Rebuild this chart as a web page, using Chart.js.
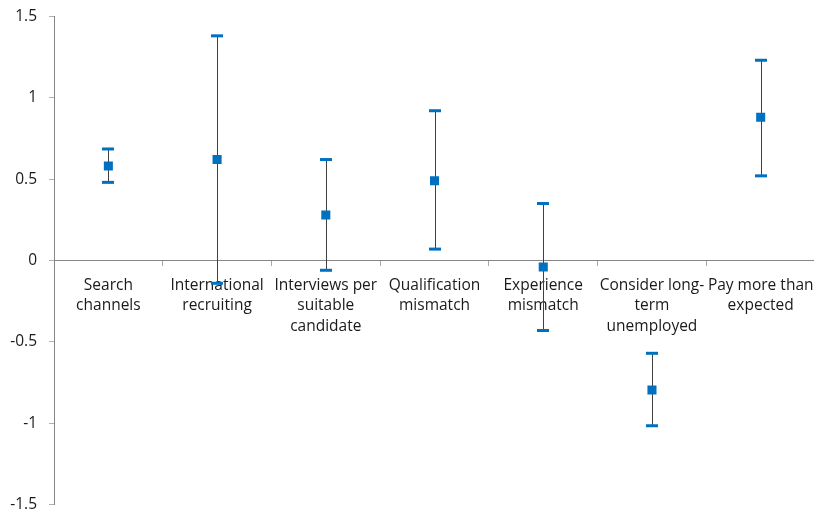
<!DOCTYPE html>
<html>
<head>
<meta charset="utf-8">
<script src="https://cdn.jsdelivr.net/npm/chart.js@4"></script>
<style>
  html, body { margin: 0; padding: 0; background: #fff; }
  #frame { position: relative; width: 814px; height: 511px; overflow: hidden; }
  #wrap { position: absolute; left: 0; top: -5px; width: 823px; height: 531px; }
</style>
</head>
<body>
<div id="frame"><div id="wrap"><canvas id="chart"></canvas></div></div>
<script>
const categories = [
  ["Search", "channels"],
  ["International", "recruiting"],
  ["Interviews per", "suitable", "candidate"],
  ["Qualification", "mismatch"],
  ["Experience", "mismatch"],
  ["Consider long-", "term", "unemployed"],
  ["Pay more than", "expected"]
];
const means = [0.58, 0.62, 0.28, 0.49, -0.04, -0.795, 0.88];
const upper = [0.685, 1.38, 0.62, 0.92, 0.35, -0.57, 1.23];
const lower = [0.48, -0.14, -0.06, 0.07, -0.43, -1.015, 0.52];
const yTicks = [1.5, 1, 0.5, 0, -0.5, -1, -1.5];

const blue = "#0070c0";

// error bars drawn under the markers
const errorBars = {
  id: "errorBars",
  beforeDatasetsDraw(chart) {
    const ctx = chart.ctx;
    const x = chart.scales.x, y = chart.scales.y;
    ctx.save();
    for (let i = 0; i < means.length; i++) {
      const px = Math.round(x.getPixelForValue(i)) + 0.5;
      const top = y.getPixelForValue(upper[i]);
      const bot = y.getPixelForValue(lower[i]);
      ctx.strokeStyle = "#404040";
      ctx.lineWidth = 1;
      ctx.beginPath();
      ctx.moveTo(px, top);
      ctx.lineTo(px, bot);
      ctx.stroke();
      ctx.fillStyle = blue;
      ctx.fillRect(px - 6.5, top - 1.5, 12, 3);
      ctx.fillRect(px - 6.5, bot - 1.5, 12, 3);
    }
    ctx.restore();
  }
};

new Chart(document.getElementById("chart"), {
  type: "line",
  data: {
    labels: categories,
    datasets: [{
      data: means,
      showLine: false,
      pointStyle: "rect",
      pointRadius: 6.4,
      pointHoverRadius: 6.4,
      pointBackgroundColor: blue,
      pointBorderColor: blue,
      pointBorderWidth: 0
    }]
  },
  options: {
    responsive: true,
    maintainAspectRatio: false,
    animation: false,
    events: [],
    layout: { autoPadding: false, padding: 0 },
    plugins: { legend: { display: false }, tooltip: { enabled: false } },
    scales: {
      x: {
        position: { y: 0 },
        offset: true,
        grid: { drawOnChartArea: false, offset: true, tickLength: 5, color: "#a6a6a6" },
        border: { color: "#868686" },
        ticks: {
          autoSkip: false,
          maxRotation: 0,
          minRotation: 0,
          padding: 9.5,
          color: "#1a1a1a",
          font: { family: "Open Sans", size: 15.5, lineHeight: 1.32 }
        }
      },
      y: {
        min: -1.5,
        max: 1.5,
        afterFit: (s) => { s.width = 54; },
        afterBuildTicks: (s) => { s.ticks = yTicks.map(v => ({ value: v })); },
        grid: { drawOnChartArea: false, tickLength: 5, color: "#b0b0b0" },
        border: { color: "#868686" },
        ticks: {
          padding: 12,
          color: "#1a1a1a",
          font: { family: "Open Sans", size: 15.5 },
          callback: (v) => String(v)
        }
      }
    }
  },
  plugins: [errorBars]
});
</script>
</body>
</html>
